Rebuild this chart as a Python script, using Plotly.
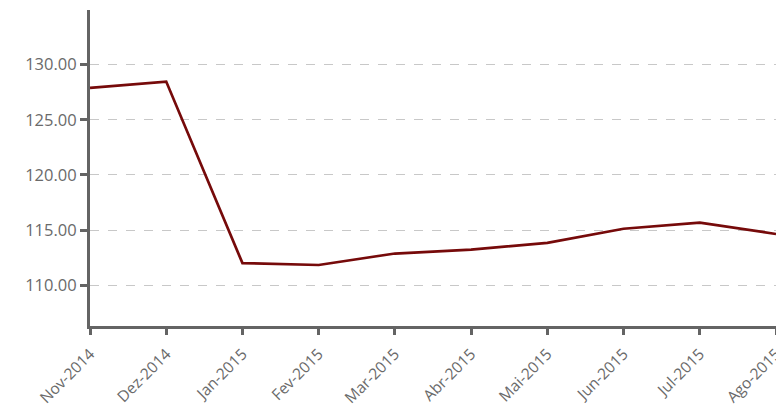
import plotly.graph_objects as go

months = ["Nov-2014", "Dez-2014", "Jan-2015", "Fev-2015", "Mar-2015",
          "Abr-2015", "Mai-2015", "Jun-2015", "Jul-2015", "Ago-2015"]
values = [127.89, 128.46, 112.0, 111.83, 112.87, 113.23, 113.83, 115.12, 115.67, 114.64]
y_ticks = [110, 115, 120, 125, 130]

fig = go.Figure()
fig.add_trace(go.Scatter(
    x=months, y=values, mode="lines",
    line=dict(color="#760a0a", width=2.7),
    hoverinfo="skip",
))

axis_color = "#646464"
# page body has an 8px default margin, so the figure is sized/offset to compensate
fig.update_layout(
    width=776, height=409,
    margin=dict(l=82, r=8, t=2, b=91),
    paper_bgcolor="white", plot_bgcolor="white",
    showlegend=False,
    font=dict(family="Open Sans, sans-serif", color="#6a6a6a"),
)
fig.update_xaxes(
    type="category",
    range=[0, len(months) - 1],
    automargin=False,
    showline=True, linecolor=axis_color, linewidth=3,
    ticks="outside", tickcolor=axis_color, tickwidth=3, ticklen=6,
    tickangle=-45, tickfont=dict(size=15.5, color="#6a6a6a"),
    ticklabelstandoff=4,
    showgrid=False, zeroline=False,
)
fig.update_yaxes(
    range=[106.3, 134.95],
    automargin=False,
    tickvals=y_ticks, ticktext=[f"{v:.2f}" for v in y_ticks],
    showline=True, linecolor=axis_color, linewidth=3,
    ticks="outside", tickcolor=axis_color, tickwidth=3, ticklen=7,
    tickfont=dict(size=16.5, color="#6a6a6a"),
    showgrid=True, gridcolor="#c8c8c8", griddash="dash", gridwidth=1,
    zeroline=False,
)

fig.write_html("out.html")
